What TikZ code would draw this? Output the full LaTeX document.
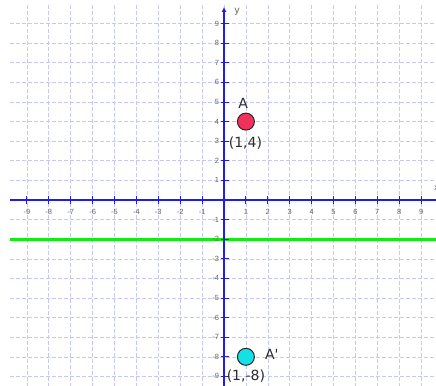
\documentclass[tikz,border=0pt]{standalone}
\usepackage{fontspec}
\usetikzlibrary{arrows.meta}
\setmainfont{Liberation Sans}
\newfontfamily\handfont{DejaVu Sans}
\definecolor{gridc}{RGB}{200,200,245}
\definecolor{axisc}{RGB}{30,30,230}
\definecolor{linec}{RGB}{20,235,20}
\definecolor{ptA}{RGB}{240,50,90}
\definecolor{ptB}{RGB}{20,225,230}
\definecolor{txt}{RGB}{45,45,45}
\begin{document}
\begin{tikzpicture}[x=21.9pt,y=19.6pt,
  gridline/.style={draw=gridc,line width=0.6pt,dash pattern=on 4pt off 2pt},
  axisline/.style={draw=axisc,line width=1.4pt},
  tickline/.style={draw=axisc,line width=0.9pt},
  ticklab/.style={font=\fontsize{7.5}{8}\selectfont,text=black!60,inner sep=0pt},
  ptlab/.style={font=\handfont\fontsize{14}{15}\selectfont,text=txt,inner sep=0pt},
  pointdot/.style={circle,draw=black!85,line width=1pt,minimum size=17pt,inner sep=0pt}]
\useasboundingbox (-10.228,-9.439) rectangle (9.68,10.204);
\fill[white] (-10.228,-9.439) rectangle (9.68,10.204);
% grid
\foreach \i in {-9,...,9} \draw[gridline] (\i,9.95) -- (\i,-9.5);
\foreach \j in {-9,...,9} \draw[gridline] (-9.77,\j) -- (9.8,\j);
% green line y=-2
\coordinate (gl) at (-9.77,-2);
\coordinate (gr) at (9.8,-2);
\draw[draw=linec,line width=3.2pt] (gl) -- (gr);
% axes
\coordinate (xl) at (-9.77,0);
\coordinate (xr) at (9.8,0);
\coordinate (yb) at (0,-9.6);
\coordinate (yt) at (0,9.85);
\draw[axisline] (xl) -- (xr);
\draw[axisline,-{Latex[length=5pt,width=5pt]}] (yb) -- (yt);
% ticks and labels
\foreach \i in {-9,...,-1,1,2,...,9} {
  \draw[tickline] (\i,-0.18) -- (\i,0.18);
  \node[ticklab] (xt\i) at (\i,-0.62) {\i};
}
\foreach \j in {-9,...,-1,1,2,...,9} {
  \draw[tickline] (-0.12,\j) -- (0.22,\j);
  \node[ticklab,anchor=east] (yt\j) at (-0.22,\j) {\j};
}
\node[ticklab,font=\fontsize{10}{11}\selectfont] (ylab) at (0.6,9.62) {y};
\node[ticklab,font=\fontsize{9}{10}\selectfont,anchor=west] (xlab) at (9.6,0.62) {x};
% points
\node[pointdot,fill=ptA] (A) at (1,4) {};
\node[ptlab] (Alab) at (0.87,4.95) {A};
\node[ptlab] (Acoord) at (0.98,2.9) {(1,4)};
\node[pointdot,fill=ptB] (B) at (1,-8) {};
\node[ptlab] (Blab) at (2.18,-7.88) {A'};
\node[ptlab] (Bcoord) at (1.0,-8.97) {(1,-8)};
\end{tikzpicture}
\end{document}
